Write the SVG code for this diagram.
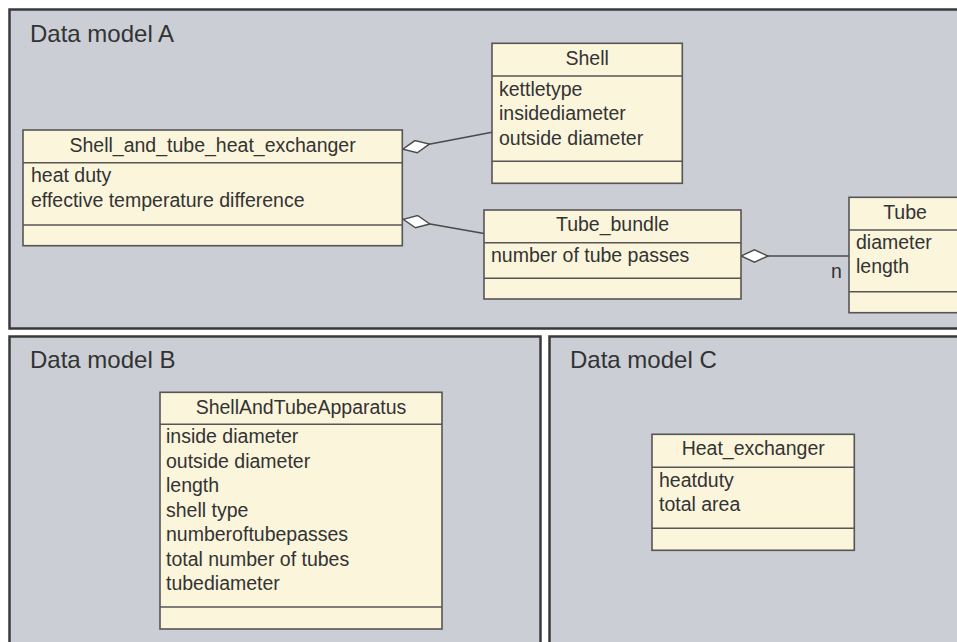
<svg xmlns="http://www.w3.org/2000/svg" width="957" height="642" viewBox="0 0 957 642">
  <style>
    .panel { fill: #cbced5; stroke: #3a3a3a; stroke-width: 2.5; }
    .panel-title { font-family: "Liberation Sans", Arial, sans-serif; font-size: 24px; fill: #333333; }
    .cls { fill: #fbf5dc; stroke: #555555; stroke-width: 1.6; }
    .sep { stroke: #555555; stroke-width: 1.6; fill: none; }
    .name { font-family: "Liberation Sans", Arial, sans-serif; font-size: 19.5px; fill: #333333; text-anchor: middle; }
    .attr { font-family: "Liberation Sans", Arial, sans-serif; font-size: 19.5px; fill: #333333; }
    .link { stroke: #4a4a4a; stroke-width: 1.6; fill: none; }
  </style>
  <defs>
    <!-- hollow aggregation diamond, tip placed on the owning class -->
    <marker id="agg" viewBox="0 0 28 14" refX="27.5" refY="7" markerWidth="28" markerHeight="14" markerUnits="userSpaceOnUse" orient="auto">
      <path d="M0.5,7 L14,0.8 L27.5,7 L14,13.2 Z" fill="#ffffff" stroke="#4a4a4a" stroke-width="1.4"/>
    </marker>
  </defs>

  <rect width="957" height="642" fill="#ffffff"/>

  <!-- panels -->
  <g id="panel-a">
    <rect class="panel" x="9.5" y="9.5" width="960" height="319"/>
    <text class="panel-title" x="30" y="41.5">Data model A</text>
  </g>
  <g id="panel-b">
    <rect class="panel" x="9.5" y="336.5" width="531" height="320"/>
    <text class="panel-title" x="30" y="368">Data model B</text>
  </g>
  <g id="panel-c">
    <rect class="panel" x="549.5" y="336.5" width="420" height="320"/>
    <text class="panel-title" x="570" y="368">Data model C</text>
  </g>

  <!-- connectors -->
  <g id="connectors">
    <path class="link" d="M492,132.3 L402.8,149.2" marker-end="url(#agg)"/>
    <path class="link" d="M484,233.5 L403.2,219.3" marker-end="url(#agg)"/>
    <path class="link" d="M849,256 L741,256" marker-end="url(#agg)"/>
    <text class="attr" x="831" y="277.5">n</text>
  </g>

  <!-- model A classes -->
  <g id="shell-and-tube-heat-exchanger">
    <rect class="cls" x="23" y="130" width="379.3" height="115.7"/>
    <line class="sep" x1="23" y1="162.7" x2="402.3" y2="162.7"/>
    <line class="sep" x1="23" y1="225" x2="402.3" y2="225"/>
    <text class="name" x="212.6" y="152.3">Shell_and_tube_heat_exchanger</text>
    <text class="attr" x="31" y="181.7">heat duty</text>
    <text class="attr" x="31" y="206.7">effective temperature difference</text>
  </g>

  <g id="shell">
    <rect class="cls" x="492" y="43.3" width="190.3" height="140"/>
    <line class="sep" x1="492" y1="76" x2="682.3" y2="76"/>
    <line class="sep" x1="492" y1="161.3" x2="682.3" y2="161.3"/>
    <text class="name" x="587.2" y="65.3">Shell</text>
    <text class="attr" x="499" y="96">kettletype</text>
    <text class="attr" x="499" y="120.3">insidediameter</text>
    <text class="attr" x="499" y="145">outside diameter</text>
  </g>

  <g id="tube-bundle">
    <rect class="cls" x="484" y="210" width="257" height="89"/>
    <line class="sep" x1="484" y1="242.7" x2="741" y2="242.7"/>
    <line class="sep" x1="484" y1="278.3" x2="741" y2="278.3"/>
    <text class="name" x="612.5" y="230.7">Tube_bundle</text>
    <text class="attr" x="491" y="261.7">number of tube passes</text>
  </g>

  <g id="tube">
    <rect class="cls" x="849" y="197.3" width="113" height="115.4"/>
    <line class="sep" x1="849" y1="230" x2="962" y2="230"/>
    <line class="sep" x1="849" y1="291.7" x2="962" y2="291.7"/>
    <text class="name" x="905" y="219.3">Tube</text>
    <text class="attr" x="856" y="249.3">diameter</text>
    <text class="attr" x="856" y="272.7">length</text>
  </g>

  <!-- model B class -->
  <g id="shell-and-tube-apparatus">
    <rect class="cls" x="160" y="392.3" width="282" height="236.7"/>
    <line class="sep" x1="160" y1="424.3" x2="442" y2="424.3"/>
    <line class="sep" x1="160" y1="607" x2="442" y2="607"/>
    <text class="name" x="301" y="414.3">ShellAndTubeApparatus</text>
    <text class="attr" x="166" y="443.3">inside diameter</text>
    <text class="attr" x="166" y="467.8">outside diameter</text>
    <text class="attr" x="166" y="492.2">length</text>
    <text class="attr" x="166" y="516.7">shell type</text>
    <text class="attr" x="166" y="541.1">numberoftubepasses</text>
    <text class="attr" x="166" y="565.6">total number of tubes</text>
    <text class="attr" x="166" y="590">tubediameter</text>
  </g>

  <!-- model C class -->
  <g id="heat-exchanger">
    <rect class="cls" x="652" y="434.3" width="202.3" height="116"/>
    <line class="sep" x1="652" y1="467.3" x2="854.3" y2="467.3"/>
    <line class="sep" x1="652" y1="528.3" x2="854.3" y2="528.3"/>
    <text class="name" x="753.2" y="455.3">Heat_exchanger</text>
    <text class="attr" x="659" y="486.7">heatduty</text>
    <text class="attr" x="659" y="510.7">total area</text>
  </g>
</svg>
